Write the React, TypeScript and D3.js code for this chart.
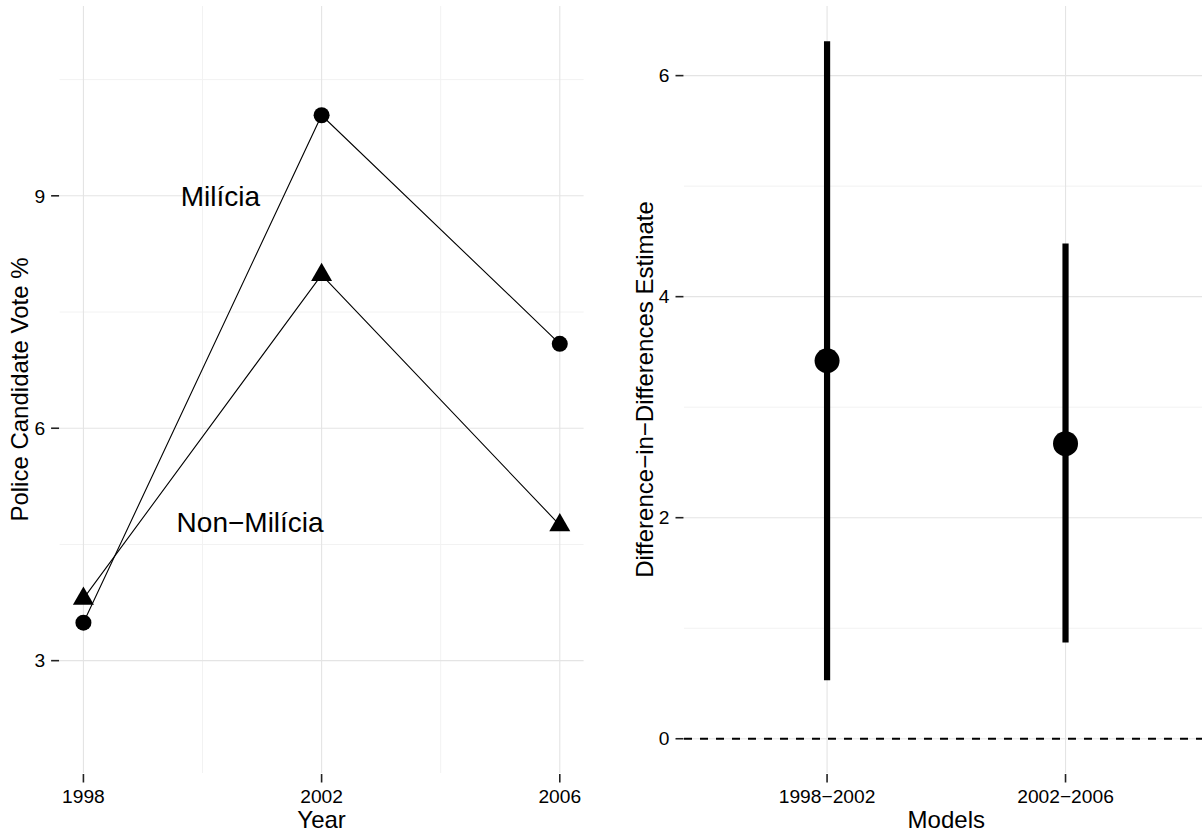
import React from 'react';
import * as d3 from 'd3';

const years = [1998, 2002, 2006];
const yearMinor = [2000, 2004];
const miliciaVote = [3.49, 10.04, 7.09];
const nonMiliciaVote = [3.8, 7.98, 4.75];
const voteTicks = [3, 6, 9];
const voteMinor = [4.5, 7.5, 10.5];
const groupLabels = ['Milícia', 'Non−Milícia'];
const labelYear = [2000.3, 2000.8];
const labelVote = [9.0, 4.79];

const models = ['1998−2002', '2002−2006'];
const didEstimate = [3.42, 2.67];
const didLower = [0.53, 0.87];
const didUpper = [6.31, 4.48];
const didTicks = [0, 2, 4, 6];
const didMinor = [1, 3, 5];

const W = 1202;
const H = 834;
const top = 6;
const bottom = 773;
const font = '"Liberation Sans", Arial, Helvetica, sans-serif';
const majorGrid = '#e4e4e4';
const minorGrid = '#f2f2f2';
const tickColor = '#222';

const App = () => {
  // left panel scales
  const x1 = d3.scaleLinear().domain([1998 - 0.4, 2006 + 0.4]).range([59.6, 583.6]);
  const y1 = d3.scaleLinear().domain([1.55, 11.45]).range([bottom, top]);

  // right panel scales
  const x2 = d3.scalePoint<string>().domain(models).range([684, 1208.6]).padding(0.6);
  const y2 = d3.scaleLinear().domain([-0.31, 6.63]).range([bottom, top]);

  const line = (vals: number[]) =>
    d3.line<number>().x((d, i) => x1(years[i])).y(d => y1(d))(vals) || '';

  const triangle = (cx: number, cy: number, a = 7.8) =>
    `M${cx},${cy - 1.555 * a}L${cx + 1.347 * a},${cy + 0.778 * a}L${cx - 1.347 * a},${cy + 0.778 * a}Z`;

  const [l1, r1] = x1.range();
  const l2 = 684;
  const r2 = 1208.6;

  return (
    <svg width={W} height={H} style={{ position: 'absolute', left: 0, top: 0, background: '#fff' }} fontFamily={font}>
      {/* ---- left panel ---- */}
      <g>
        {voteMinor.map(v => (
          <line key={'m' + v} x1={l1} x2={r1} y1={y1(v)} y2={y1(v)} stroke={minorGrid} strokeWidth={1} />
        ))}
        {yearMinor.map(v => (
          <line key={'xm' + v} x1={x1(v)} x2={x1(v)} y1={top} y2={bottom} stroke={minorGrid} strokeWidth={1} />
        ))}
        {voteTicks.map(v => (
          <line key={'g' + v} x1={l1} x2={r1} y1={y1(v)} y2={y1(v)} stroke={majorGrid} strokeWidth={1.1} />
        ))}
        {years.map(v => (
          <line key={'xg' + v} x1={x1(v)} x2={x1(v)} y1={top} y2={bottom} stroke={majorGrid} strokeWidth={1.1} />
        ))}

        <path d={line(miliciaVote)} fill="none" stroke="#000" strokeWidth={1.1} />
        <path d={line(nonMiliciaVote)} fill="none" stroke="#000" strokeWidth={1.1} />
        {miliciaVote.map((v, i) => (
          <circle key={'c' + i} cx={x1(years[i])} cy={y1(v)} r={8} fill="#000" />
        ))}
        {nonMiliciaVote.map((v, i) => (
          <path key={'t' + i} d={triangle(x1(years[i]), y1(v))} fill="#000" />
        ))}

        {groupLabels.map((s, i) => (
          <text key={s} x={x1(labelYear[i])} y={y1(labelVote[i]) + 10} fontSize={28} textAnchor="middle">
            {s}
          </text>
        ))}

        {voteTicks.map(v => (
          <g key={'yt' + v}>
            <line x1={l1 - 8.5} x2={l1 - 0.5} y1={y1(v)} y2={y1(v)} stroke={tickColor} strokeWidth={1.6} />
            <text x={l1 - 14.5} y={y1(v)} dy="0.35em" fontSize={19.2} textAnchor="end">
              {v}
            </text>
          </g>
        ))}
        {years.map(v => (
          <g key={'xt' + v}>
            <line x1={x1(v)} x2={x1(v)} y1={bottom + 1} y2={bottom + 9.5} stroke={tickColor} strokeWidth={1.6} />
            <text x={x1(v)} y={803.3} fontSize={19.2} textAnchor="middle">
              {v}
            </text>
          </g>
        ))}
        <text x={(l1 + r1) / 2} y={828} fontSize={24} textAnchor="middle">Year</text>
        <text transform={`translate(28,${(top + bottom) / 2}) rotate(-90)`} fontSize={24} textAnchor="middle">
          Police Candidate Vote %
        </text>
      </g>

      {/* ---- right panel ---- */}
      <g>
        {didMinor.map(v => (
          <line key={'m2' + v} x1={l2} x2={r2} y1={y2(v)} y2={y2(v)} stroke={minorGrid} strokeWidth={1} />
        ))}
        {didTicks.map(v => (
          <line key={'g2' + v} x1={l2} x2={r2} y1={y2(v)} y2={y2(v)} stroke={majorGrid} strokeWidth={1.1} />
        ))}
        {models.map(m => (
          <line key={'xg2' + m} x1={x2(m)} x2={x2(m)} y1={top} y2={bottom} stroke={majorGrid} strokeWidth={1.1} />
        ))}

        <line x1={l2} x2={r2} y1={y2(0)} y2={y2(0)} stroke="#000" strokeWidth={2} strokeDasharray="8 8" />

        {models.map((m, i) => (
          <g key={'e' + m}>
            <line x1={x2(m)} x2={x2(m)} y1={y2(didLower[i])} y2={y2(didUpper[i])} stroke="#000" strokeWidth={6.2} />
            <circle cx={x2(m)} cy={y2(didEstimate[i])} r={12.5} fill="#000" />
          </g>
        ))}

        {didTicks.map(v => (
          <g key={'yt2' + v}>
            <line x1={l2 - 8.5} x2={l2 - 0.5} y1={y2(v)} y2={y2(v)} stroke={tickColor} strokeWidth={1.6} />
            <text x={l2 - 14.5} y={y2(v)} dy="0.35em" fontSize={19.2} textAnchor="end">
              {v}
            </text>
          </g>
        ))}
        {models.map(m => (
          <g key={'xt2' + m}>
            <line x1={x2(m)} x2={x2(m)} y1={bottom + 1} y2={bottom + 9.5} stroke={tickColor} strokeWidth={1.6} />
            <text x={x2(m)} y={803.3} fontSize={19.2} textAnchor="middle">
              {m}
            </text>
          </g>
        ))}
        <text x={(l2 + r2) / 2} y={828} fontSize={24} textAnchor="middle">Models</text>
        <text transform={`translate(653,${(top + bottom) / 2}) rotate(-90)`} fontSize={24} textAnchor="middle">
          Difference−in−Differences Estimate
        </text>
      </g>
    </svg>
  );
};

export default App;
